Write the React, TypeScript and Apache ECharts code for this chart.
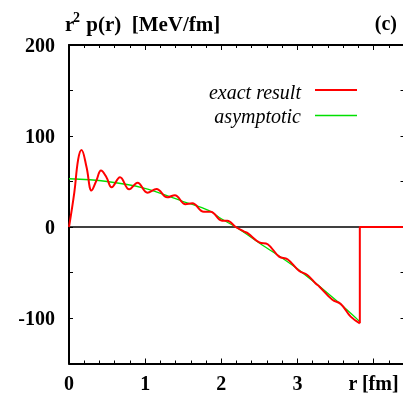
import React, { useEffect, useRef } from "react";
import * as echarts from "echarts";

// r [fm] and r^2 p(r) [MeV/fm] for the exact pressure distribution
const rExact = [0, 0.07, 0.12, 0.164, 0.23, 0.296, 0.36, 0.42, 0.49, 0.56, 0.67, 0.79, 0.9, 1.03, 1.15, 1.29, 1.39, 1.53, 1.62, 1.77, 1.86, 2.01, 2.08, 2.19, 2.3, 2.35, 2.5, 2.61, 2.76, 2.87, 3.02, 3.13, 3.24, 3.29, 3.46, 3.57, 3.7, 3.82];
const pExact = [0, 38, 74, 84.6, 66, 40, 51, 62, 55, 43.6, 54.6, 41.4, 48.7, 37.7, 41.8, 32.6, 35, 25, 26, 16.8, 16.8, 7, 7, 0, -5, -7, -17, -19, -32.6, -35.5, -48, -52.7, -62, -65.6, -80, -84.6, -98.5, -105.8];

// Beyond the edge the pressure drops back to zero
const rEdge = [3.82, 3.82, 4.6];
const pEdge = [-105.8, 0, 0];

// Asymptotic form
const rAsym = [0, 0.5, 0.97, 1.5, 1.84, 2.0, 2.19, 2.5, 3.0, 3.5, 3.82];
const pAsym = [53, 50, 43, 28, 18, 9, 0, -17.5, -46, -80, -104];

// Zero reference line
const rZero = [0, 3.82];
const pZero = [0, 0];

const xTicks = [0, 1, 2, 3, 4];
const yLabels = [200, 100, 0, -100];

const AXIS_FONT = "serif";
const TITLE_FONT = "Times New Roman";
const LEGEND_FONT = "Liberation Serif";

const zip = (xs: number[], ys: number[]) => xs.map((x, i) => [x, ys[i]]);

export default function App() {
  const ref = useRef<HTMLDivElement>(null);

  useEffect(() => {
    if (!ref.current) return;
    const chart = echarts.init(ref.current, null, { renderer: "svg" });
    const xMax = 4.42;
    const axisText = { color: "#000", fontFamily: AXIS_FONT, fontWeight: "bold" as const, fontSize: 20 };
    const frameTick = { inside: true, length: 5, lineStyle: { color: "#000", width: 1 } };
    chart.setOption({
      animation: false,
      grid: {
        left: 69,
        top: 45,
        width: 336.5,
        height: 318.5,
        containLabel: false,
        outerBoundsMode: "none",
      },
      xAxis: [
        {
          type: "value",
          min: 0,
          max: xMax,
          interval: 1,
          position: "bottom",
          axisLine: { onZero: false, lineStyle: { color: "#000", width: 2 } },
          axisTick: { inside: true, length: 5, lineStyle: { color: "#000", width: 1 } },
          minorTick: { show: true, splitNumber: 5, length: 3, lineStyle: { color: "#000", width: 1 } },
          splitLine: { show: false },
          axisLabel: {
            ...axisText,
            margin: 9,
            showMaxLabel: false,
            formatter: (v: number) => (xTicks.includes(v) ? (v === 4 ? "r [fm]" : String(v)) : ""),
          },
        },
        {
          type: "value",
          min: 0,
          max: xMax,
          interval: 1,
          position: "top",
          axisLine: { onZero: false, lineStyle: { color: "#000", width: 2 } },
          axisTick: { inside: true, length: 5, lineStyle: { color: "#000", width: 1 } },
          minorTick: { show: true, splitNumber: 5, length: 3, lineStyle: { color: "#000", width: 1 } },
          splitLine: { show: false },
          axisLabel: { show: false },
        },
      ],
      yAxis: [
        {
          type: "value",
          min: -150,
          max: 200,
          interval: 50,
          position: "left",
          axisLine: { show: true, onZero: false, lineStyle: { color: "#000", width: 2 } },
          axisTick: { show: true, inside: true, length: 4, lineStyle: { color: "#000", width: 1 } },
          splitLine: { show: false },
          axisLabel: {
            ...axisText,
            margin: 14,
            formatter: (v: number) => (yLabels.includes(v) ? String(v) : ""),
          },
        },
        {
          type: "value",
          min: -150,
          max: 200,
          interval: 50,
          position: "right",
          axisLine: { show: true, onZero: false, lineStyle: { color: "#000", width: 2 } },
          axisTick: { show: true, ...frameTick },
          splitLine: { show: false },
          axisLabel: { show: false },
        },
      ],
      series: [
        {
          name: "zero",
          type: "line",
          data: zip(rZero, pZero),
          symbol: "none",
          lineStyle: { color: "#000", width: 1.5 },
          silent: true,
          z: 1,
        },
        {
          name: "asymptotic",
          type: "line",
          data: zip(rAsym, pAsym),
          smooth: 0.4,
          symbol: "none",
          lineStyle: { color: "#00e000", width: 1.3 },
          z: 2,
        },
        {
          name: "exact result",
          type: "line",
          data: zip(rExact, pExact),
          smooth: 0.4,
          symbol: "none",
          lineStyle: { color: "#ff0000", width: 2 },
          z: 3,
        },
        {
          name: "exact result edge",
          type: "line",
          data: zip(rEdge, pEdge),
          symbol: "none",
          lineStyle: { color: "#ff0000", width: 2 },
          z: 3,
        },
      ],
      graphic: [
        {
          type: "text",
          x: 65,
          y: 13,
          style: { text: "r", fill: "#000", fontFamily: TITLE_FONT, fontWeight: "bold", fontSize: 21 },
        },
        {
          type: "text",
          x: 73,
          y: 10,
          style: { text: "2", fill: "#000", fontFamily: TITLE_FONT, fontWeight: "bold", fontSize: 14 },
        },
        {
          type: "text",
          x: 81,
          y: 13,
          style: { text: " p(r)  [MeV/fm]", fill: "#000", fontFamily: TITLE_FONT, fontWeight: "bold", fontSize: 21 },
        },
        {
          type: "text",
          x: 397,
          y: 13,
          style: { text: "(c)", fill: "#000", fontFamily: TITLE_FONT, fontWeight: "bold", fontSize: 20, align: "right" },
        },
        {
          type: "text",
          x: 301,
          y: 92,
          style: {
            text: "exact result",
            fill: "#000",
            fontFamily: LEGEND_FONT,
            fontStyle: "italic",
            fontSize: 20,
            align: "right",
            verticalAlign: "middle",
          },
        },
        {
          type: "line",
          shape: { x1: 315, y1: 90, x2: 357, y2: 90 },
          style: { stroke: "#ff0000", lineWidth: 2 },
        },
        {
          type: "text",
          x: 301,
          y: 116,
          style: {
            text: "asymptotic",
            fill: "#000",
            fontFamily: LEGEND_FONT,
            fontStyle: "italic",
            fontSize: 20,
            align: "right",
            verticalAlign: "middle",
          },
        },
        {
          type: "line",
          shape: { x1: 315, y1: 115.5, x2: 357, y2: 115.5 },
          style: { stroke: "#00e000", lineWidth: 1.3 },
        },
      ],
    });
    return () => chart.dispose();
  }, []);

  return (
    <div
      ref={ref}
      style={{ position: "fixed", left: 0, top: 0, width: 403, height: 394 }}
    />
  );
}
